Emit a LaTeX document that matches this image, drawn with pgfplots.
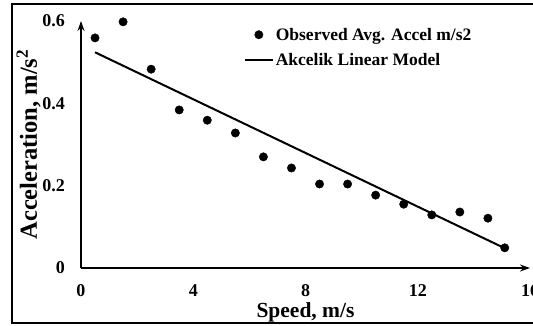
\documentclass[border=0pt]{standalone}
\usepackage{pgfplots}
\pgfplotsset{compat=1.18}
\usepackage{fontspec}
\setmainfont{Liberation Serif}
\usetikzlibrary{arrows.meta}

\pgfplotsset{
  dotlegend/.style={legend image code/.code={%
    \draw[mark repeat=2,mark phase=2,##1] plot coordinates {(0pt,0pt)(14pt,0pt)(28pt,0pt)};}},
  linelegend/.style={legend image code/.code={%
    \draw[##1] (0pt,0pt) -- (28pt,0pt);}},
}

\begin{document}
\begin{tikzpicture}[x=1pt,y=1pt]
\useasboundingbox (0,0) rectangle (533,325);
% outer frame
\draw[line width=2pt] (12,2) rectangle (548,321);
\begin{axis}[
  at={(81pt,57pt)}, anchor=south west,
  scale only axis, width=449pt, height=247pt,
  xmin=0, xmax=16, ymin=0, ymax=0.6,
  axis lines=left,
  axis line style={line width=1.8pt, -{Stealth[length=10pt,width=7pt]}},
  xtick={0,4,8,12,16}, ytick={0,0.2,0.4,0.6},
  major tick length=0pt,
  /pgf/number format/assume math mode=true,
  /pgf/number format/fixed,
  tick label style={font=\fontsize{18}{20}\selectfont\bfseries, inner sep=0pt},
  xticklabel style={yshift=-16pt},
  yticklabel style={xshift=-16pt},
  xlabel={Speed, m/s},
  ylabel={Acceleration, m/s\textsuperscript{2}},
  xlabel style={font=\fontsize{21.5}{24}\selectfont\bfseries, inner sep=0pt,
    at={(axis description cs:0.5,0)}, anchor=base, yshift=-49pt},
  ylabel style={font=\fontsize{24.5}{26}\selectfont\bfseries, inner sep=0pt,
    at={(axis description cs:-0.098,0.5)}, anchor=base},
  legend style={at={(rel axis cs:0.36,0.985)}, anchor=north west, draw=none, fill=none,
    font=\fontsize{17.5}{19}\selectfont\bfseries, row sep=8pt,
    inner sep=1pt},
  legend cell align=left,
  clip=false,
]
\addplot[only marks, mark=*, mark size=4.2pt, black, dotlegend]
  coordinates {
  (0.5,0.559) (1.5,0.598) (2.5,0.483) (3.5,0.384) (4.5,0.359)
  (5.5,0.328) (6.5,0.270) (7.5,0.243) (8.5,0.204) (9.5,0.204)
  (10.5,0.177) (11.5,0.155) (12.5,0.129) (13.5,0.136) (14.5,0.121)
  (15.1,0.049)
  };
\addlegendentry{Observed Avg. Accel m/s2}
\addplot[black, line width=2pt, linelegend]
  coordinates {(0.5,0.524) (15.1,0.048)};
\addlegendentry{Akcelik Linear Model}
\end{axis}
\end{tikzpicture}
\end{document}
